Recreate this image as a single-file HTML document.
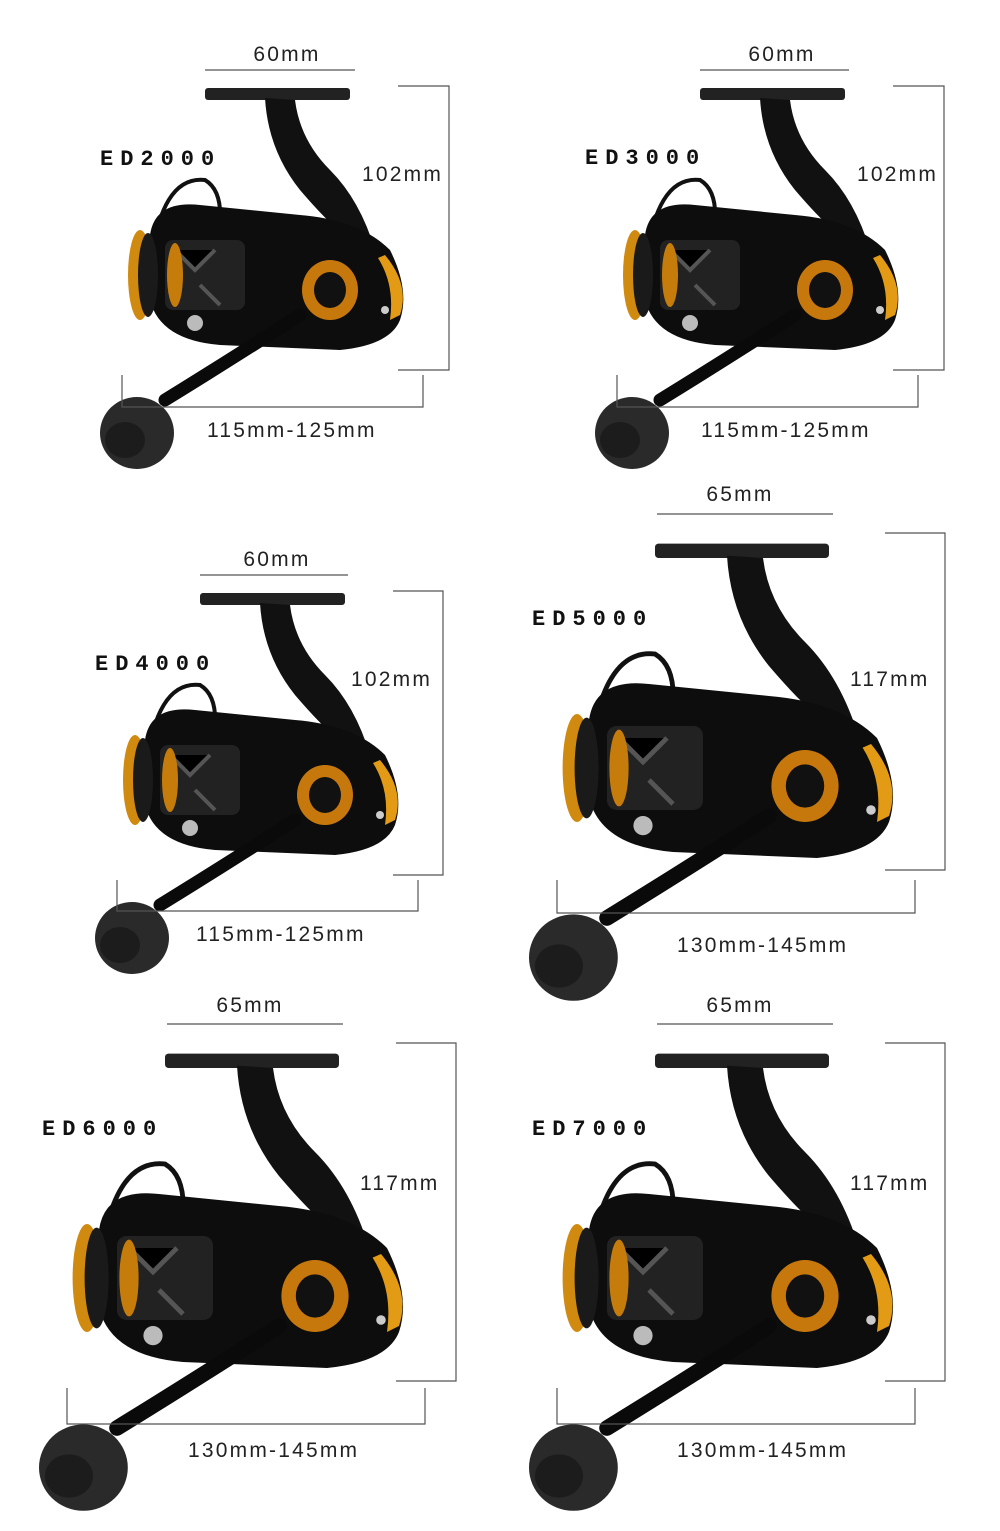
<!DOCTYPE html>
<html><head><meta charset="utf-8"><style>
body{margin:0;background:#fff}
svg{display:block}
.t{font-family:"Liberation Sans",sans-serif;font-size:21px;fill:#222;letter-spacing:2.2px}
.ed{font-family:"Liberation Mono",monospace;font-weight:bold;font-size:22px;fill:#111;letter-spacing:7px}
.l{stroke:#555;stroke-width:1.2;fill:none}
</style></head><body>
<svg width="1000" height="1531" viewBox="0 0 1000 1531" xmlns="http://www.w3.org/2000/svg">
<defs>
<g id="reel">
 <path d="M150 270 Q160 175 205 180 Q222 190 220 222" stroke="#111" stroke-width="4" fill="none"/>
 <rect x="205" y="88" width="145" height="12" rx="3" fill="#222"/>
 <path d="M265 98 Q268 150 300 190 Q330 225 345 235 L375 250 Q360 200 330 170 Q300 140 295 100 Z" fill="#111"/>
 <path d="M150 235 Q155 200 200 205 L300 215 Q360 220 390 250 Q410 290 400 320 Q390 345 340 350 L220 345 Q160 340 150 300 Z" fill="#0d0d0d"/>
 <ellipse cx="140" cy="275" rx="12" ry="45" fill="#d08a10"/>
 <ellipse cx="148" cy="275" rx="10" ry="42" fill="#1a1a1a"/>
 <rect x="165" y="240" width="80" height="70" rx="8" fill="#222"/>
 <path d="M175 250 l20 20 l20 -20 M200 285 l20 20" stroke="#555" stroke-width="4"/>
 <ellipse cx="175" cy="275" rx="8" ry="32" fill="#c67c0a"/>
 <ellipse cx="330" cy="290" rx="28" ry="30" fill="#c7780c"/>
 <ellipse cx="330" cy="290" rx="16" ry="18" fill="#111"/>
 <path d="M385 255 Q410 285 400 315 L390 320 Q395 285 378 258 Z" fill="#e39b15"/>
 <circle cx="195" cy="323" r="8" fill="#bbb"/>
 <circle cx="385" cy="310" r="4" fill="#ccc"/>
 <path d="M165 400 Q230 360 300 315" stroke="#0a0a0a" stroke-width="13" fill="none" stroke-linecap="round"/>
 <ellipse cx="137" cy="433" rx="37" ry="36" fill="#2a2a2a"/>
 <ellipse cx="125" cy="440" rx="20" ry="18" fill="#1c1c1c"/>
</g>
</defs>

<use href="#reel"/>
<use href="#reel" transform="translate(495,0)"/>
<use href="#reel" transform="translate(-5,505)"/>
<use href="#reel" transform="translate(409,438) scale(1.2)"/>
<use href="#reel" transform="translate(-81,948) scale(1.2)"/>
<use href="#reel" transform="translate(409,948) scale(1.2)"/>

<path class="l" d="M205 70H355M398 86H449V370H398M122 375V407H423V375"/>
<text class="t" x="287" y="61" text-anchor="middle">60mm</text>
<text class="t" x="362" y="181">102mm</text>
<text class="t" x="207" y="437">115mm-125mm</text>
<text class="ed" x="100" y="165">ED2000</text>

<path class="l" d="M700 70H849M893 86H944V370H893M617 375V407H918V375"/>
<text class="t" x="782" y="61" text-anchor="middle">60mm</text>
<text class="t" x="857" y="181">102mm</text>
<text class="t" x="701" y="437">115mm-125mm</text>
<text class="ed" x="585" y="164">ED3000</text>

<path class="l" d="M200 575H348M393 591H443V875H393M117 880V911H418V880"/>
<text class="t" x="277" y="566" text-anchor="middle">60mm</text>
<text class="t" x="351" y="686">102mm</text>
<text class="t" x="196" y="941">115mm-125mm</text>
<text class="ed" x="95" y="670">ED4000</text>

<path class="l" d="M657 514H833M885 533H945V870H885M557 880V913H915V880"/>
<text class="t" x="740" y="501" text-anchor="middle">65mm</text>
<text class="t" x="850" y="686">117mm</text>
<text class="t" x="677" y="952">130mm-145mm</text>
<text class="ed" x="532" y="625">ED5000</text>

<path class="l" d="M167 1024H343M396 1043H456V1381H396M67 1388V1424H425V1388"/>
<text class="t" x="250" y="1012" text-anchor="middle">65mm</text>
<text class="t" x="360" y="1190">117mm</text>
<text class="t" x="188" y="1457">130mm-145mm</text>
<text class="ed" x="42" y="1135">ED6000</text>

<path class="l" d="M657 1024H833M885 1043H945V1381H885M557 1388V1424H915V1388"/>
<text class="t" x="740" y="1012" text-anchor="middle">65mm</text>
<text class="t" x="850" y="1190">117mm</text>
<text class="t" x="677" y="1457">130mm-145mm</text>
<text class="ed" x="532" y="1135">ED7000</text>
</svg>
</body></html>
